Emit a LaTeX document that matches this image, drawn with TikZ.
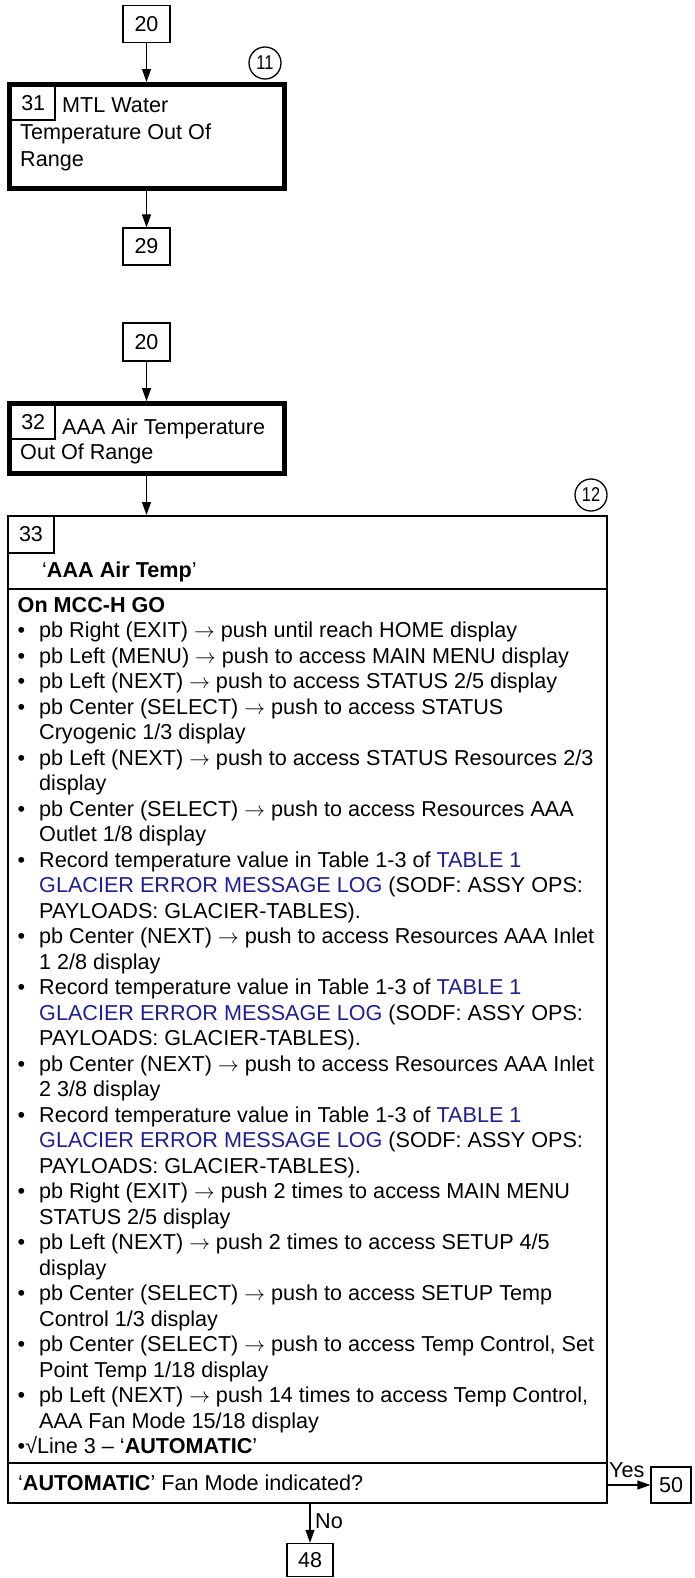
\documentclass[tikz,border=0pt]{standalone}
\usepackage{fontspec}
\setmainfont{Liberation Sans}
\usetikzlibrary{arrows.meta}
\definecolor{lnk}{RGB}{30,30,150}
\newcommand\fs{\fontsize{21.6}{25}\selectfont}
\newcommand\fsn{\fontsize{21.5}{24}\selectfont}
\newcommand\fsc{\fontsize{20}{22}\selectfont}
\newcommand\bl{\makebox[21.5pt][l]{\textbullet}}
\newcommand\ind{\hspace*{21.5pt}}
\newcommand\ar{\ensuremath{\rightarrow}}
\newcommand\lk[1]{\textcolor{lnk}{#1}}
\newcommand\cn[1]{\scalebox{0.82}[1]{#1}}
\begin{document}
\begin{tikzpicture}[x=1pt,y=-1pt,
  every node/.style={inner sep=0pt, font=\fs},
  numbox/.style={draw, line width=1.3pt, minimum width=47pt, minimum height=37pt, font=\fsn},
  thickbox/.style={draw, line width=4.5pt},
  inbox/.style={draw, line width=1.3pt, minimum width=43.5pt, minimum height=33.5pt, font=\fsn},
  circnum/.style={circle, draw, line width=1.3pt, minimum size=32pt, font=\fsc},
  arr/.style={line width=1.3pt, -{Triangle[length=13pt,width=9pt]}},
  txt/.style={anchor=base west}]
\useasboundingbox (0,0) rectangle (694,1578);

% ---- group 1
\node[numbox] (b20a) at (146.5,24) {20};
\node[thickbox, minimum width=275.4pt, minimum height=104.4pt] (b31) at (147,136.5) {};
\node[inbox] (n31) at (33.25,103.25) {31};
\node[txt] (t31a) at (62,113) {MTL Water};
\node[txt] (t31b) at (20,140) {Temperature Out Of};
\node[txt] (t31c) at (20,167) {Range};
\node[circnum] (c11) at (265,63) {\cn{11}};
\node[numbox] (b29) at (146.5,246.5) {29};
\draw[arr] (b20a.south) -- (b20a.south |- b31.north);
\draw[arr] (b31.south -| b20a.south) -- (b29.north);

% ---- group 2
\node[numbox, minimum height=38pt] (b20b) at (146.5,342) {20};
\node[thickbox, minimum width=275.4pt, minimum height=70.4pt] (b32) at (147,438.5) {};
\node[inbox] (n32) at (33.25,422.25) {32};
\node[txt] (t32a) at (62,434) {AAA Air Temperature};
\node[txt] (t32b) at (20,459) {Out Of Range};
\draw[arr] (b20b.south) -- (b20b.south |- b32.north);

% ---- box 33
\node[draw, line width=2pt, minimum width=599pt, minimum height=987pt] (b33) at (307.5,1009.5) {};
\draw[arr] (b32.south -| b20b.south) -- (b20b.south |- b33.north);
\node[circnum] (c12) at (591,495) {\cn{12}};
\node[draw, line width=1.3pt, minimum width=46pt, minimum height=37pt, font=\fsn] (n33) at (31,534.5) {33};
\node[txt] (h33) at (42,577) {‘\textbf{AAA Air Temp}’};
\coordinate (s1) at (0,589);
\coordinate (s2) at (0,1463);
\draw[line width=2pt] (b33.west |- s1) -- (b33.east |- s1);
\draw[line width=2pt] (b33.west |- s2) -- (b33.east |- s2);

\foreach \t [count=\i] in {
 {\textbf{On MCC-H GO}},
 {\bl pb Right (EXIT) \ar\ push until reach HOME display},
 {\bl pb Left (MENU) \ar\ push to access MAIN MENU display},
 {\bl pb Left (NEXT) \ar\ push to access STATUS 2/5 display},
 {\bl pb Center (SELECT) \ar\ push to access STATUS},
 {\ind Cryogenic 1/3 display},
 {\bl pb Left (NEXT) \ar\ push to access STATUS Resources 2/3},
 {\ind display},
 {\bl pb Center (SELECT) \ar\ push to access Resources AAA},
 {\ind Outlet 1/8 display},
 {\bl Record temperature value in Table 1-3 of \lk{TABLE 1}},
 {\ind\lk{GLACIER ERROR MESSAGE LOG} (SODF: ASSY OPS:},
 {\ind PAYLOADS: GLACIER-TABLES).},
 {\bl pb Center (NEXT) \ar\ push to access Resources AAA Inlet},
 {\ind 1 2/8 display},
 {\bl Record temperature value in Table 1-3 of \lk{TABLE 1}},
 {\ind\lk{GLACIER ERROR MESSAGE LOG} (SODF: ASSY OPS:},
 {\ind PAYLOADS: GLACIER-TABLES).},
 {\bl pb Center (NEXT) \ar\ push to access Resources AAA Inlet},
 {\ind 2 3/8 display},
 {\bl Record temperature value in Table 1-3 of \lk{TABLE 1}},
 {\ind\lk{GLACIER ERROR MESSAGE LOG} (SODF: ASSY OPS:},
 {\ind PAYLOADS: GLACIER-TABLES).},
 {\bl pb Right (EXIT) \ar\ push 2 times to access MAIN MENU},
 {\ind STATUS 2/5 display},
 {\bl pb Left (NEXT) \ar\ push 2 times to access SETUP 4/5},
 {\ind display},
 {\bl pb Center (SELECT) \ar\ push to access SETUP Temp},
 {\ind Control 1/3 display},
 {\bl pb Center (SELECT) \ar\ push to access Temp Control, Set},
 {\ind Point Temp 1/18 display},
 {\bl pb Left (NEXT) \ar\ push 14 times to access Temp Control,},
 {\ind AAA Fan Mode 15/18 display},
 {\textbullet√Line 3 -- ‘\textbf{AUTOMATIC}’}}
  \node[txt] (l\i) at (17.5,{612+25.5*(\i-1)}) {\t};

\node[txt] (dec) at (18,1490) {‘\textbf{AUTOMATIC}’ Fan Mode indicated?};

% ---- exits
\node[draw, line width=1.3pt, minimum width=40pt, minimum height=36pt, font=\fsn] (b50) at (671,1485) {50};
\draw[arr] (b50.west -| b33.east) -- (b50.west);
\node[txt] (yes) at (609,1477) {Yes};
\node[numbox, minimum width=46pt, minimum height=33pt] (b48) at (310,1560) {48};
\draw[arr] (b48.north |- b33.south) -- (b48.north);
\node[txt] (no) at (315,1528) {No};
\end{tikzpicture}
\end{document}
